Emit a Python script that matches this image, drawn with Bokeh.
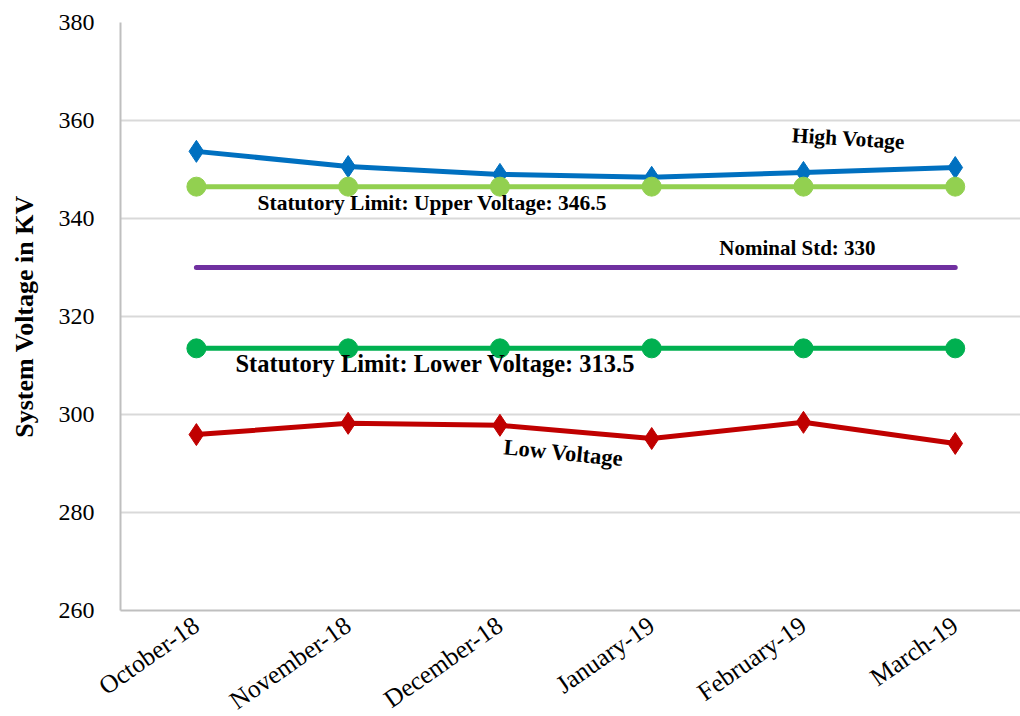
import math
from bokeh.plotting import figure
from bokeh.models import Range1d, FixedTicker, Label
from bokeh.embed import file_html
from bokeh.resources import INLINE

# Monthly system voltage readings (kV)
months = ["October-18", "November-18", "December-18", "January-19", "February-19", "March-19"]
high_voltage = [353.7, 350.6, 349.0, 348.4, 349.4, 350.4]
upper_limit = [346.5, 346.5, 346.5, 346.5, 346.5, 346.5]
nominal_std = [330, 330, 330, 330, 330, 330]
lower_limit = [313.5, 313.5, 313.5, 313.5, 313.5, 313.5]
low_voltage = [295.9, 298.2, 297.8, 295.1, 298.4, 294.1]
y_ticks = [260, 280, 300, 320, 340, 360, 380]

xs = list(range(len(months)))
serif = "Liberation Serif"

p = figure(width=1020, height=716, frame_width=900, frame_height=588,
           output_backend="svg", toolbar_location=None,
           x_range=Range1d(-0.5, 5.43), y_range=Range1d(260, 380),
           min_border_left=120, min_border_right=0, min_border_top=22, min_border_bottom=0)
p.outline_line_color = None
p.background_fill_color = "white"
p.border_fill_color = "white"

# Axes
p.xaxis.ticker = FixedTicker(ticks=xs)
p.xaxis.major_label_overrides = {i: m for i, m in enumerate(months)}
p.xaxis.major_label_orientation = 0.61
p.yaxis.ticker = FixedTicker(ticks=y_ticks)
for ax in (p.xaxis[0], p.yaxis[0]):
    ax.axis_line_color = "#BFBFBF"
    ax.axis_line_width = 2
    ax.major_tick_line_color = None
    ax.minor_tick_line_color = None
    ax.major_label_text_font = serif
    ax.major_label_text_color = "black"
p.yaxis.major_label_text_font_size = "24px"
p.xaxis.major_label_text_font_size = "25.5px"
p.yaxis.major_label_standoff = 20
p.xaxis.major_label_standoff = 6
p.yaxis.axis_label = "System Voltage in KV"
p.yaxis.axis_label_text_font = serif
p.yaxis.axis_label_text_font_style = "bold"
p.yaxis.axis_label_text_font_size = "26px"
p.yaxis.axis_label_text_color = "black"
p.yaxis.axis_label_standoff = 17

p.xgrid.grid_line_color = None
p.ygrid.ticker = FixedTicker(ticks=y_ticks)
p.ygrid.grid_line_color = "#D9D9D9"
p.ygrid.grid_line_width = 2

# Series
p.line(xs, high_voltage, line_color="#0070C0", line_width=5)
p.scatter(xs, high_voltage, marker="diamond", size=22, color="#0070C0")

p.line(xs, upper_limit, line_color="#92D050", line_width=5)
p.scatter(xs, upper_limit, marker="circle", size=19, color="#92D050")

p.line(xs, nominal_std, line_color="#7030A0", line_width=5, line_cap="round")

p.line(xs, lower_limit, line_color="#00B050", line_width=5)
p.scatter(xs, lower_limit, marker="circle", size=19, color="#00B050")

p.line(xs, low_voltage, line_color="#C00000", line_width=5)
p.scatter(xs, low_voltage, marker="diamond", size=22, color="#C00000")

# Series annotations
def note(x, y, text, size, angle=0.0):
    p.add_layout(Label(x=x, y=y, text=text, text_font=serif, text_font_style="bold",
                       text_font_size=size, text_align="center", text_baseline="middle",
                       angle=angle, text_color="black"))

note(4.296, 356.3, "High Votage", "21.5px", -0.06)
note(1.555, 343.1, "Statutory Limit: Upper Voltage: 346.5", "21.5px")
note(3.96, 333.9, "Nominal Std: 330", "21px")
note(1.575, 310.4, "Statutory Limit: Lower Voltage: 313.5", "24.5px")
note(2.418, 292.2, "Low Voltage", "22.5px", -0.1)

open("out.html", "w").write(file_html(p, INLINE))
